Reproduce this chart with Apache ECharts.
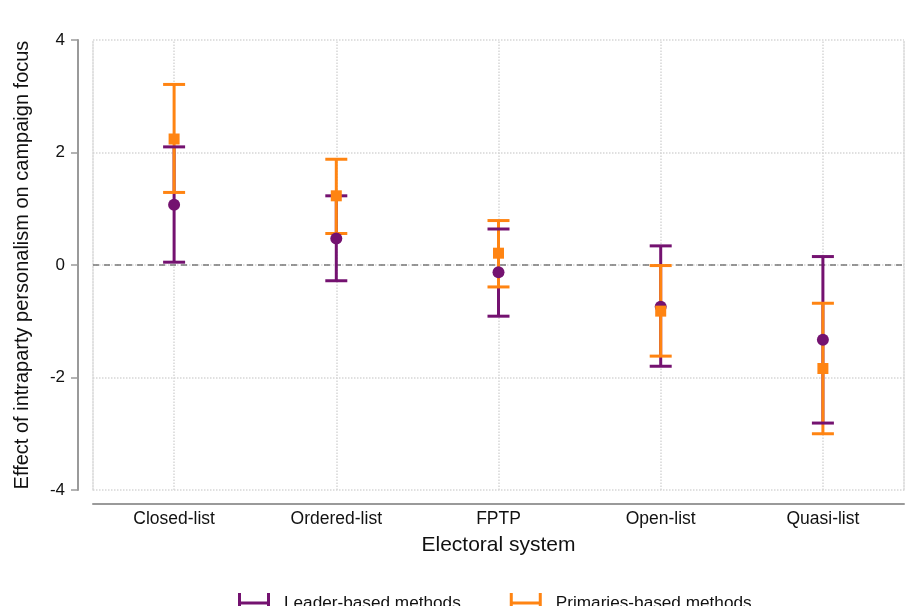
<!DOCTYPE html>
<html>
<head>
<meta charset="utf-8">
<script src="https://cdn.jsdelivr.net/npm/echarts@6/dist/echarts.min.js"></script>
<style>html,body{margin:0;padding:0;background:#fff;}#c{width:909px;height:606px;}</style>
</head>
<body>
<div id="c"></div>
<script>
const categories = ['Closed-list', 'Ordered-list', 'FPTP', 'Open-list', 'Quasi-list'];
const leaderEst = [1.07, 0.47, -0.13, -0.74, -1.33];
const leaderLow = [0.05, -0.28, -0.91, -1.80, -2.81];
const leaderHigh = [2.10, 1.23, 0.64, 0.34, 0.15];
const primEst = [2.24, 1.23, 0.21, -0.82, -1.84];
const primLow = [1.29, 0.56, -0.39, -1.62, -3.00];
const primHigh = [3.21, 1.88, 0.79, -0.01, -0.68];
const yTicks = [-4, -2, 0, 2, 4];

const PURPLE = '#741270';
const ORANGE = '#ff8412';
const FONT = 'Liberation Sans';

function ciData(low, high) {
  return categories.map((c, i) => [i, low[i], high[i]]);
}
function stemSeries(name, low, high, color, z) {
  return {
    type: 'custom', name: name + ' stem', z: z, silent: true,
    data: ciData(low, high),
    renderItem: function (params, api) {
      const lo = api.coord([api.value(0), api.value(1)]);
      const hi = api.coord([api.value(0), api.value(2)]);
      return { type: 'line', shape: { x1: lo[0], y1: lo[1], x2: hi[0], y2: hi[1] },
               style: { stroke: color, lineWidth: 3 } };
    }
  };
}
function capSeries(name, low, high, color, z) {
  return {
    type: 'custom', name: name + ' caps', z: z, silent: true,
    data: ciData(low, high),
    renderItem: function (params, api) {
      const lo = api.coord([api.value(0), api.value(1)]);
      const hi = api.coord([api.value(0), api.value(2)]);
      const w = 11;
      return { type: 'group', children: [
        { type: 'line', shape: { x1: lo[0] - w, y1: lo[1], x2: lo[0] + w, y2: lo[1] }, style: { stroke: color, lineWidth: 3 } },
        { type: 'line', shape: { x1: hi[0] - w, y1: hi[1], x2: hi[0] + w, y2: hi[1] }, style: { stroke: color, lineWidth: 3 } }
      ]};
    }
  };
}
const legendIcon = 'path://M0,0h3v20h-3z M3,8.5h26v3h-26z M29,0h3v20h-3z';

const chart = echarts.init(document.getElementById('c'), null, { renderer: 'canvas' });
chart.setOption({
  animation: false,
  textStyle: { fontFamily: FONT },
  grid: { left: 93, right: 5, top: 40, bottom: 116, containLabel: false, outerBoundsMode: 'none' },
  xAxis: {
    type: 'category', data: categories, boundaryGap: true, offset: 14,
    name: 'Electoral system', nameLocation: 'middle', nameGap: 31,
    nameTextStyle: { fontSize: 21, color: '#111', fontFamily: FONT },
    axisLine: { show: true, onZero: false, lineStyle: { color: '#9a9a9a', width: 2 } },
    axisTick: { show: false },
    axisLabel: { fontSize: 17.5, color: '#111', margin: 6, fontFamily: FONT },
    splitLine: { show: false }
  },
  yAxis: [{
    type: 'value', min: -4, max: 4, interval: 2, offset: 15, position: 'left',
    name: 'Effect of intraparty personalism on campaign focus', nameLocation: 'middle', nameGap: 46,
    nameTextStyle: { fontSize: 20, color: '#111', fontFamily: FONT },
    axisLine: { show: true, lineStyle: { color: '#9a9a9a', width: 2 } },
    axisTick: { show: true, length: 7, lineStyle: { color: '#9a9a9a', width: 1.5 } },
    axisLabel: { fontSize: 17, color: '#111', margin: 13, fontFamily: FONT },
    splitLine: { show: true, lineStyle: { color: '#d6d6d6', type: 'dotted', width: 1.5 } }
  }, {
    type: 'value', min: -4, max: 4, interval: 2, position: 'left', offset: 0,
    axisLine: { show: true, lineStyle: { color: '#d6d6d6', type: 'dotted', width: 1.5 } },
    axisTick: { show: false }, axisLabel: { show: false }, splitLine: { show: false }
  }, {
    type: 'value', min: -4, max: 4, interval: 2, position: 'right', offset: 0,
    axisLine: { show: true, lineStyle: { color: '#d6d6d6', type: 'dotted', width: 1.5 } },
    axisTick: { show: false }, axisLabel: { show: false }, splitLine: { show: false }
  }],
  legend: {
    left: 233, top: 588, itemWidth: 32, itemHeight: 20, itemGap: 49,
    textStyle: { fontSize: 17.2, color: '#111', fontFamily: FONT, padding: [0, 0, 0, 9] },
    data: [
      { name: 'Leader-based methods', icon: legendIcon, itemStyle: { color: PURPLE } },
      { name: 'Primaries-based methods', icon: legendIcon, itemStyle: { color: ORANGE } }
    ]
  },
  series: [
    {
      type: 'line', data: [], z: 1, silent: true,
      markLine: {
        symbol: 'none', silent: true, z: 1, label: { show: false },
        data: categories.map(c => ({ xAxis: c, lineStyle: { color: '#d6d6d6', type: 'dotted', width: 1.5 } }))
          .concat([{ yAxis: 0, lineStyle: { color: '#7a7a7a', type: [6, 5], width: 1.5 } }])
      }
    },
    stemSeries('Leader', leaderLow, leaderHigh, PURPLE, 2),
    stemSeries('Primaries', primLow, primHigh, ORANGE, 3),
    capSeries('Primaries', primLow, primHigh, ORANGE, 4),
    capSeries('Leader', leaderLow, leaderHigh, PURPLE, 5),
    {
      type: 'scatter', name: 'Leader-based methods', z: 6, symbol: 'circle', symbolSize: 12,
      itemStyle: { color: PURPLE, opacity: 1 },
      data: leaderEst.map((v, i) => [i, v])
    },
    {
      type: 'scatter', name: 'Primaries-based methods', z: 7, symbol: 'rect', symbolSize: 11,
      itemStyle: { color: ORANGE, opacity: 1 },
      data: primEst.map((v, i) => [i, v])
    }
  ]
});
</script>
</body>
</html>
